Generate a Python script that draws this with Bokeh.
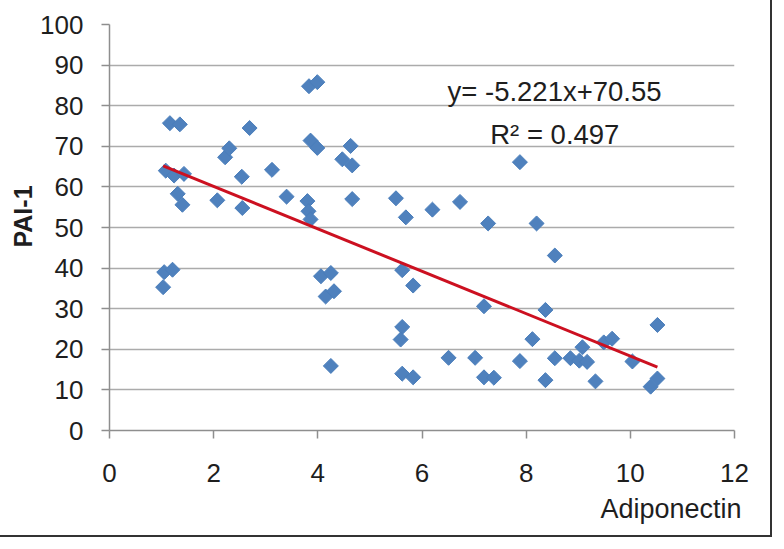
import numpy as np
from bokeh.plotting import figure
from bokeh.models import Range1d, FixedTicker, Label, Title
from bokeh.embed import file_html
from bokeh.resources import INLINE

# ---- data ----
adiponectin = [1.16, 1.35, 1.08, 1.24, 1.43, 1.31, 1.40, 1.05, 1.21, 1.03,
               2.07, 2.22, 2.30, 2.55, 2.54, 2.69, 3.12, 3.40, 3.83, 3.99,
               3.86, 3.99, 3.80, 3.82, 3.86, 4.06, 4.25, 4.15, 4.31, 4.25,
               4.47, 4.66, 4.63, 4.66, 5.50, 5.69, 6.20, 6.73, 7.27, 8.20,
               7.88, 8.55, 5.62, 5.83, 7.19, 8.37, 5.62, 5.59, 8.12, 6.51,
               7.02, 7.88, 8.55, 5.62, 5.83, 7.19, 7.38, 8.37, 8.85, 9.08,
               9.02, 9.17, 9.33, 9.49, 9.65, 10.04, 10.52, 10.39, 10.52]
pai1 = [75.7, 75.4, 64.0, 62.8, 63.2, 58.3, 55.6, 39.0, 39.6, 35.3,
        56.7, 67.3, 69.5, 54.8, 62.5, 74.5, 64.2, 57.6, 84.8, 85.8,
        71.4, 69.6, 56.5, 54.0, 52.0, 38.0, 38.8, 33.0, 34.3, 15.9,
        66.8, 65.3, 70.1, 57.0, 57.2, 52.5, 54.4, 56.3, 51.0, 51.0,
        66.1, 43.1, 39.5, 35.7, 30.6, 29.7, 25.5, 22.4, 22.5, 17.9,
        17.9, 17.1, 17.8, 14.0, 13.1, 13.1, 13.0, 12.4, 17.8, 20.5,
        17.2, 16.9, 12.1, 21.7, 22.6, 17.0, 26.0, 10.8, 12.8]
slope = -5.221
intercept = 70.55
r_squared = 0.497
x_ticks = [0, 2, 4, 6, 8, 10, 12]
y_ticks = [0, 10, 20, 30, 40, 50, 60, 70, 80, 90, 100]
x_title = "Adiponectin"
y_title = "PAI-1"

FONT = "Liberation Sans"
TXT = "#1e1e1e"
GRID = "#ABABAB"
AXIS = "#8E8E8E"

p = figure(width=780, height=545, output_backend="svg", toolbar_location=None,
           x_range=Range1d(0, 12), y_range=Range1d(0, 100),
           min_border_left=115, min_border_right=40,
           min_border_top=30, min_border_bottom=109)
p.styles = {"margin": "-8px", "border": "2px solid #333333"}
p.outline_line_color = None
p.background_fill_color = "white"
p.border_fill_color = "white"

p.xaxis.ticker = FixedTicker(ticks=x_ticks)
p.yaxis.ticker = FixedTicker(ticks=y_ticks)
p.xgrid.grid_line_color = None
p.ygrid.grid_line_color = GRID
p.ygrid.grid_line_width = 1.6

for ax in (p.xaxis[0], p.yaxis[0]):
    ax.axis_line_color = AXIS
    ax.axis_line_width = 1.5
    ax.major_tick_line_color = AXIS
    ax.major_tick_line_width = 1.5
    ax.major_tick_out = 8
    ax.major_tick_in = 0
    ax.minor_tick_line_color = None
    ax.major_label_text_font = FONT
    ax.major_label_text_font_size = "26px"
    ax.major_label_text_color = TXT

p.yaxis.major_label_standoff = 18
p.xaxis.major_label_standoff = 25

# scatter (diamonds)
p.scatter(adiponectin, pai1, marker="square", size=10.6, angle=np.pi / 4,
          fill_color="#4F81BD", line_color="#4A7EBB", line_width=1)

# trend line
xs = np.array([min(adiponectin), max(adiponectin)])
p.line(xs, slope * xs + intercept, line_color="#CC1020", line_width=3)

eq = Label(x=6.49, y=83.4, text=f"y= {slope}x+{intercept}",
           text_font=FONT, text_font_size="27.5px", text_color=TXT,
           text_align="left", text_baseline="alphabetic")
rl = Label(x=7.31, y=72.9, text=f"R\u00b2 = {r_squared}",
           text_font=FONT, text_font_size="27.5px", text_color=TXT,
           text_align="left", text_baseline="alphabetic")
p.add_layout(eq)
p.add_layout(rl)

xt = Title(text=x_title, align="right", offset=-7, standoff=14,
           text_font=FONT, text_font_size="27px", text_font_style="normal",
           text_color=TXT)
p.add_layout(xt, "below")

yt = Title(text=y_title, align="left", offset=183, standoff=1,
           text_font=FONT, text_font_size="25px", text_font_style="bold",
           text_color=TXT)
p.add_layout(yt, "left")

open("out.html", "w").write(file_html(p, INLINE))
